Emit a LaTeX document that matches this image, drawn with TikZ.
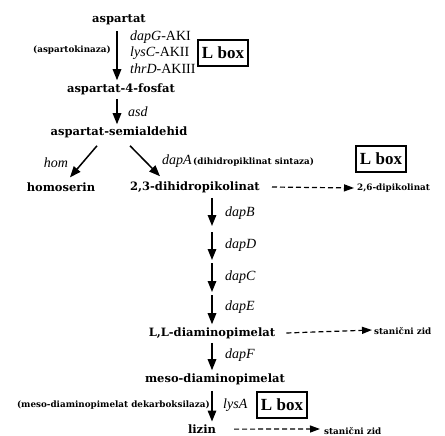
\documentclass[tikz,border=0pt]{standalone}
\usepackage{fontspec}
\setmainfont{DejaVu Serif}
\newfontfamily\genefont{Liberation Serif}
\usetikzlibrary{arrows.meta}
\begin{document}
\begin{tikzpicture}[x=1pt,y=1pt,
 met/.style={font=\bfseries\fontsize{11.5}{13}\selectfont, inner sep=0pt},
 gene/.style={font=\genefont\itshape\fontsize{14}{15}\selectfont, inner sep=0pt, anchor=west},
 enz/.style={font=\bfseries\fontsize{8.8}{9}\selectfont, inner sep=0pt},
 lbox/.style={draw, line width=1.1pt, font=\genefont\bfseries\fontsize{17}{18}\selectfont, minimum width=50pt, minimum height=26pt, inner sep=0pt},
 rx/.style={-{Triangle[length=11pt,width=8.5pt]}, line width=1.5pt},
 side/.style={-{Triangle[length=10pt,width=7pt]}, line width=1.2pt, dash pattern=on 5pt off 3pt}]
\useasboundingbox (0,0) rectangle (445,-436);
% metabolites
\node[met] (asp) at (119,-20) {aspartat};
\node[met] (p4) at (121,-89) {aspartat-4-fosfat};
\node[met] (sem) at (119,-132) {aspartat-semialdehid};
\node[met] (hser) at (61,-187) {homoserin};
\node[met] (dhp) at (195,-187) {2,3-dihidropikolinat};
\node[enz, anchor=west] (dpk) at (357,-188) {2,6-dipikolinat};
\node[met] (ll) at (212,-333) {L,L-diaminopimelat};
\node[enz, anchor=west] (zid1) at (374,-331) {stanični zid};
\node[met] (meso) at (215,-379) {meso-diaminopimelat};
\node[met, anchor=base] (liz) at (202,-433.5) {lizin};
\node[enz, anchor=west] (zid2) at (324,-431) {stanični zid};
% chain coordinates
\coordinate (c1) at (212,-226);
\coordinate (c2) at (212,-260);
\coordinate (c3) at (212,-292);
% genes
\node[gene] (dapG) at (130,-37) {dapG\normalfont\genefont-AKI};
\node[gene] (lysC) at (130,-53) {lysC\normalfont\genefont-AKII};
\node[gene] (thrD) at (130,-69) {thrD\normalfont\genefont-AKIII};
\node[enz, anchor=east] (ak) at (111,-50) {(aspartokinaza)};
\node[lbox] (lb1) at (223,-53) {L box};
\node[gene] (asd) at (128,-112) {asd};
\node[gene, anchor=center] (hom) at (56,-163) {hom};
\node[gene] (dapA) at (162,-161) {dapA};
\node[enz, anchor=west] (dps) at (193,-162) {(dihidropiklinat sintaza)};
\node[lbox] (lb2) at (381,-159) {L box};
\node[gene] (dapB) at (225,-213) {dapB};
\node[gene] (dapD) at (225,-245) {dapD};
\node[gene] (dapC) at (225,-277) {dapC};
\node[gene] (dapE) at (225,-307) {dapE};
\node[gene] (dapF) at (225,-355) {dapF};
\node[gene] (lysA) at (223,-405) {lysA};
\node[enz, anchor=east] (mdc) at (210,-405) {(meso-diaminopimelat dekarboksilaza)};
\node[lbox] (lb3) at (282,-405) {L box};
% reactions
\draw[rx] ([shift={(-2,-6)}]asp.south) -- ([shift={(-4,3)}]p4.north);
\draw[rx] ([shift={(-4,-4)}]p4.south) -- ([shift={(-2,2)}]sem.north);
\draw[rx] ([shift={(-22,-8)}]sem.south) -- ([shift={(9,5)}]hser.north);
\draw[rx] ([shift={(11,-8)}]sem.south) -- ([shift={(-35,5)}]dhp.north);
\draw[rx] ([shift={(17,-5)}]dhp.south) -- (c1);
\draw[rx] ([shift={(0,-6)}]c1) -- (c2);
\draw[rx] ([shift={(0,-3)}]c2) -- (c3);
\draw[rx] ([shift={(0,-3)}]c3) -- ([shift={(0,3)}]ll.north);
\draw[rx] ([shift={(0,-4)}]ll.south) -- ([shift={(-3,3)}]meso.north);
\draw[rx] ([shift={(-3,-6)}]meso.south) -- ([shift={(10,3)}]liz.north);
% side branches
\draw[side] ([xshift=12]dhp.east) -- ([xshift=-3]dpk.west);
\draw[side] ([xshift=11]ll.east) -- ([shift={(-2,1)}]zid1.west);
\draw[side] ([xshift=18]liz.east) -- ([shift={(-4,2)}]zid2.west);
\end{tikzpicture}
\end{document}
